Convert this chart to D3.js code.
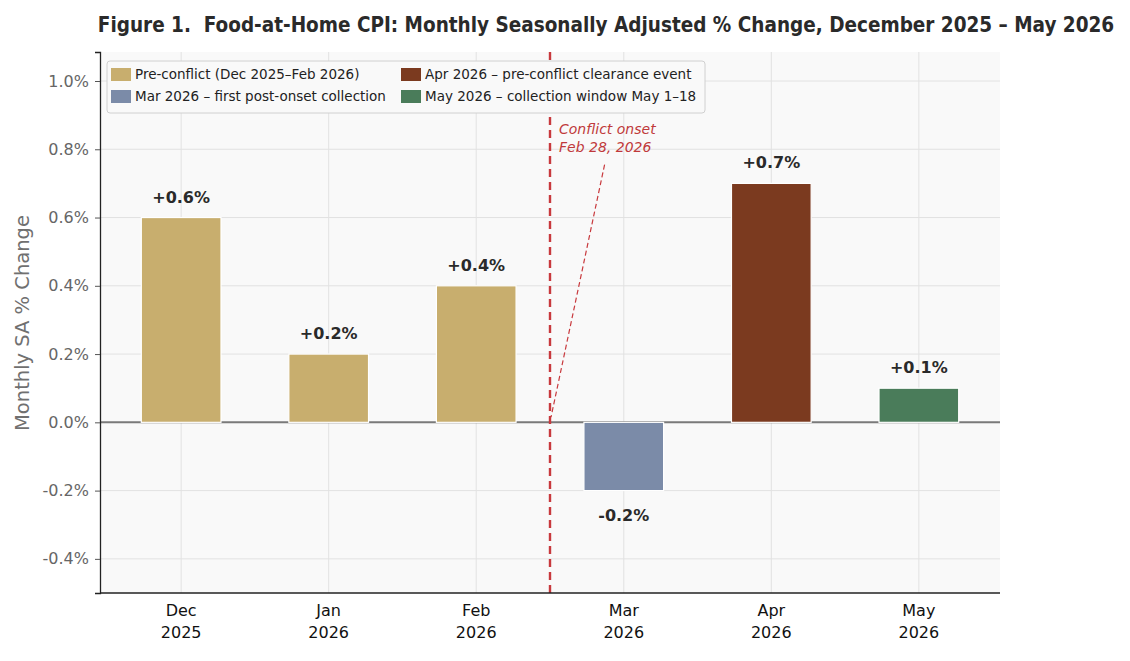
<!DOCTYPE html>
<html>
<head>
  <title>Food-at-Home CPI</title>
  <script src="https://d3js.org/d3.v7.min.js"></script>
</head>
<body style="margin:0;background:#fff;">
  <svg id="chart"></svg>
  <script>
    // data
    var months = ["Dec\n2025", "Jan\n2026", "Feb\n2026", "Mar\n2026", "Apr\n2026", "May\n2026"];
    var values = [0.6, 0.2, 0.4, -0.2, 0.7, 0.1];
    var groups = ["pre", "pre", "pre", "mar", "apr", "may"];
    var yTicks = [-0.4, -0.2, 0.0, 0.2, 0.4, 0.6, 0.8, 1.0];
    var legendItems = [
      { key: "pre", label: "Pre-conflict (Dec 2025\u2013Feb 2026)" },
      { key: "mar", label: "Mar 2026 \u2013 first post-onset collection" },
      { key: "apr", label: "Apr 2026 \u2013 pre-conflict clearance event" },
      { key: "may", label: "May 2026 \u2013 collection window May 1\u201318" }
    ];
    var colors = { pre: "#c8ae6e", mar: "#7b8ba8", apr: "#7b3a1f", may: "#4a7c5a" };

    var width = 1130, height = 661;
    var margin = { top: 52, right: 130, bottom: 68, left: 100 };
    var innerWidth = width - margin.left - margin.right;
    var innerHeight = height - margin.top - margin.bottom;

    var svg = d3.select("#chart").attr("width", width).attr("height", height)
      .style("font-family", "DejaVu Sans, sans-serif");

    var chart = svg.append("g")
      .attr("transform", "translate(" + margin.left + "," + margin.top + ")");

    var x = d3.scaleLinear().domain([-0.55, 5.55]).range([0, innerWidth]);
    var y = d3.scaleLinear().domain([-0.5, 1.085]).range([innerHeight, 0]);
    var barW = x(0.54) - x(0);

    // background
    chart.append("rect").attr("width", innerWidth).attr("height", innerHeight).attr("fill", "#f9f9f9");

    // grid
    chart.selectAll(".hgrid").data(yTicks).enter().append("line")
      .attr("x1", 0).attr("x2", innerWidth)
      .attr("y1", d => y(d)).attr("y2", d => y(d))
      .attr("stroke", "#e2e2e2").attr("stroke-width", 1);
    chart.selectAll(".vgrid").data(months).enter().append("line")
      .attr("x1", (d, i) => x(i)).attr("x2", (d, i) => x(i))
      .attr("y1", 0).attr("y2", innerHeight)
      .attr("stroke", "#e2e2e2").attr("stroke-width", 1);

    // zero line
    chart.append("line").attr("x1", 0).attr("x2", innerWidth)
      .attr("y1", y(0)).attr("y2", y(0))
      .attr("stroke", "#7a7a7a").attr("stroke-width", 2);

    // bars
    chart.selectAll(".bar").data(values).enter().append("rect")
      .attr("x", (d, i) => x(i) - barW / 2)
      .attr("width", barW)
      .attr("y", d => y(Math.max(0, d)))
      .attr("height", d => Math.abs(y(d) - y(0)))
      .attr("fill", (d, i) => colors[groups[i]])
      .attr("stroke", "#fff").attr("stroke-width", 1.2);

    // bar labels
    chart.selectAll(".bar-label").data(values).enter().append("text")
      .attr("x", (d, i) => x(i))
      .attr("y", d => d >= 0 ? y(d) - 15 : y(d) + 30)
      .attr("text-anchor", "middle")
      .style("font-size", "16px").style("font-weight", "bold").attr("fill", "#2a2a2a")
      .text(d => (d > 0 ? "+" : "") + d.toFixed(1) + "%");

    // conflict line
    var onsetX = x(2.5);
    chart.append("line").attr("x1", onsetX).attr("x2", onsetX)
      .attr("y1", 0).attr("y2", innerHeight)
      .attr("stroke", "#c8393d").attr("stroke-width", 2.4).attr("stroke-dasharray", "8,5");

    chart.append("line")
      .attr("x1", x(2.87)).attr("y1", y(0.755))
      .attr("x2", onsetX + 1).attr("y2", y(0.015))
      .attr("stroke", "#c8393d").attr("stroke-width", 1.2).attr("stroke-dasharray", "5,3");

    var ann = chart.append("text")
      .attr("y", y(0.845))
      .attr("fill", "#c0393b").style("font-size", "14px").style("font-style", "italic");
    ann.append("tspan").attr("x", onsetX + 9).text("Conflict onset");
    ann.append("tspan").attr("x", onsetX + 9).attr("dy", 18).text("Feb 28, 2026");

    // axes
    var yAxis = chart.append("g")
      .call(d3.axisLeft(y).tickValues(yTicks).tickSize(5).tickPadding(6)
        .tickFormat(d => d.toFixed(1) + "%"));
    yAxis.select(".domain").attr("stroke", "#222").attr("stroke-width", 1.3);
    yAxis.selectAll(".tick line").attr("stroke", "#555");
    yAxis.selectAll("text").style("font-size", "16px").attr("fill", "#666")
      .style("font-family", "DejaVu Sans, sans-serif");

    var xAxis = chart.append("g").attr("transform", "translate(0," + innerHeight + ")");
    xAxis.append("line").attr("x1", 0).attr("x2", innerWidth)
      .attr("stroke", "#222").attr("stroke-width", 1.3);
    var xl = xAxis.selectAll(".xlab").data(months).enter().append("text")
      .attr("text-anchor", "middle").attr("fill", "#111")
      .style("font-size", "16px");
    xl.each(function(d, i) {
      var parts = d.split("\n");
      var t = d3.select(this);
      t.append("tspan").attr("x", x(i)).attr("y", 23).text(parts[0]);
      t.append("tspan").attr("x", x(i)).attr("y", 45).text(parts[1]);
    });

    // y axis title
    svg.append("text")
      .attr("transform", "translate(29,323) rotate(-90)")
      .attr("text-anchor", "middle").attr("fill", "#707070")
      .style("font-size", "19.5px")
      .text("Monthly SA % Change");

    // legend
    var lg = chart.append("g").attr("transform", "translate(7,9)");
    lg.append("rect").attr("width", 598).attr("height", 52).attr("rx", 3)
      .attr("fill", "#f9f9f9").attr("stroke", "#d0d0d0");
    var li = lg.selectAll(".li").data(legendItems).enter().append("g")
      .attr("transform", (d, i) => "translate(" + (i < 2 ? 4 : 294) + "," + (i % 2 === 0 ? 6 : 28) + ")");
    li.append("rect").attr("width", 20).attr("height", 13).attr("y", 1)
      .attr("fill", d => colors[d.key]);
    li.append("text").attr("x", 24).attr("y", 12)
      .style("font-size", "13.5px").attr("fill", "#222")
      .text(d => d.label);

    // title
    svg.append("text")
      .attr("x", 606).attr("y", 32)
      .attr("text-anchor", "middle").attr("fill", "#2a2a2a")
      .style("font-size", "20.5px").style("font-weight", "bold")
      .style("font-family", "DejaVu Sans Condensed, DejaVu Sans, sans-serif")
      .style("font-stretch", "condensed")
      .style("white-space", "pre")
      .text("Figure 1.  Food-at-Home CPI: Monthly Seasonally Adjusted % Change, December 2025 \u2013 May 2026");
  </script>
</body>
</html>
